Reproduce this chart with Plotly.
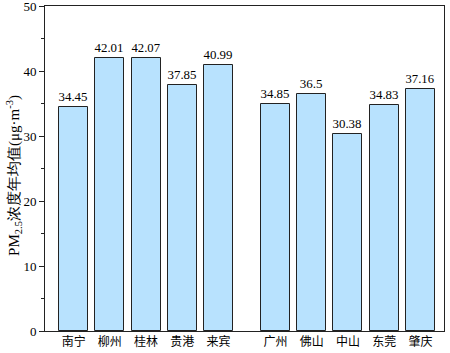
import plotly.graph_objects as go

cities = ["南宁", "柳州", "桂林", "贵港", "来宾", "广州", "佛山", "中山", "东莞", "肇庆"]
groups = [0, 0, 0, 0, 0, 1, 1, 1, 1, 1]
values = [34.45, 42.01, 42.07, 37.85, 40.99, 34.85, 36.5, 30.38, 34.83, 37.16]
value_labels = ["34.45", "42.01", "42.07", "37.85", "40.99", "34.85", "36.5", "30.38", "34.83", "37.16"]
y_ticks = [0, 10, 20, 30, 40, 50]
y_title = "PM<sub>2.5</sub>浓度年均值(μg·m<sup>-3</sup>)"

GROUP_GAP = 0.57
xpos = [i + GROUP_GAP * g for i, g in enumerate(groups)]

serif = "Times New Roman, Liberation Serif, serif"

fig = go.Figure(go.Bar(
    x=xpos, y=values, text=value_labels, textposition="outside",
    texttemplate="%{text}", cliponaxis=False,
    width=0.8,
    marker=dict(color="#B8E2FE", line=dict(color="#222222", width=1)),
    textfont=dict(family=serif, size=13, color="black"),
))

fig.update_layout(
    width=450, height=353,
    margin=dict(l=45, r=6, t=6, b=22, autoexpand=False),
    plot_bgcolor="white", paper_bgcolor="white",
    showlegend=False,
    font=dict(family=serif, size=13, color="black"),
    bargap=0,
)
fig.add_annotation(
    text=y_title, xref="paper", yref="paper", x=-0.078, y=0.48,
    xanchor="center", yanchor="middle", textangle=-90, showarrow=False,
    font=dict(family=serif, size=15, color="black"),
)
fig.update_xaxes(
    range=[-0.79, 10.22], automargin=False,
    tickmode="array", tickvals=xpos, ticktext=cities,
    tickfont=dict(family="Noto Sans CJK SC", size=12),
    showline=True, linecolor="#222222", linewidth=1, mirror=True,
    ticks="", showgrid=False, zeroline=False,
)
fig.update_yaxes(
    range=[0, 50], automargin=False,
    tickmode="array", tickvals=y_ticks, ticklabeloverflow="allow",
    ticks="outside", ticklen=5, tickcolor="#222222",
    tickfont=dict(family=serif, size=13),
    minor=dict(ticks="outside", ticklen=3, dtick=5, tickcolor="#222222", showgrid=False),
    showline=True, linecolor="#222222", linewidth=1, mirror=True,
    showgrid=False, zeroline=False,
)

fig.write_html("out.html", post_script="document.body.style.margin='0';",
               config={"displayModeBar": False})
